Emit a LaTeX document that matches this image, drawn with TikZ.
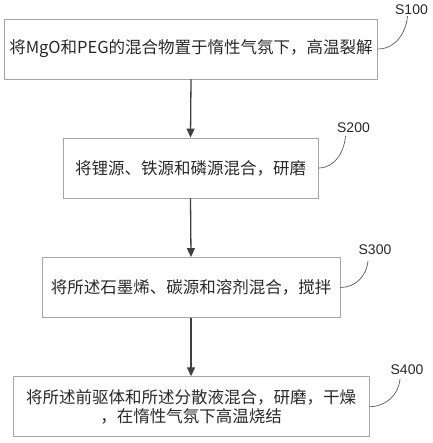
\documentclass[tikz,border=0pt]{standalone}
\usepackage{fontspec}
\newfontfamily\cjk{Noto Sans CJK SC}
\setsansfont{Liberation Sans}
\usetikzlibrary{arrows.meta, positioning}
\definecolor{boxgray}{RGB}{165, 165, 165}
\definecolor{arrowgray}{RGB}{64, 64, 64}
\definecolor{textgray}{RGB}{40, 40, 40}
\definecolor{leadgray}{RGB}{90, 90, 90}

\tikzset{
    stepbox/.style={draw=boxgray, line width=0.8pt, minimum height=60pt, inner sep=0pt,
        align=center, text=textgray, font=\cjk\fontsize{16.5}{19}\selectfont},
    flowarrow/.style={-{Triangle[length=9pt, width=8pt]}, line width=1.3pt, arrowgray},
    steplabel/.style={inner sep=0pt, text=textgray, font=\sffamily\fontsize{14}{16}\selectfont},
    leader/.style={leadgray, line width=0.7pt}
}

\begin{document}
\begin{tikzpicture}[x=1pt, y=-1pt]
    \useasboundingbox (0, 0) rectangle (432, 443);

    % steps
    \node[stepbox, minimum width=373pt] (s100) at (191, 49) {将MgO和PEG的混合物置于惰性气氛下，高温裂解};
    \node[stepbox, minimum width=255pt] (s200) at (190.5, 168) {将锂源、铁源和磷源混合，研磨};
    \node[stepbox, minimum width=298pt] (s300) at (191, 287.5) {将所述石墨烯、碳源和溶剂混合，搅拌};
    \node[stepbox, minimum width=356pt] (s400) at (191, 406.7) {将所述前驱体和所述分散液混合，研磨，干燥\\，在惰性气氛下高温烧结};

    \draw[flowarrow] (s100.south) -- (s200.north);
    \draw[flowarrow] (s200.south) -- (s300.north);
    \draw[flowarrow] (s300.south) -- (s400.north);

    % step numbers
    \node[steplabel, anchor=south] (l100) at (411.5, 15) {S100};
    \node[steplabel, anchor=south] (l200) at (353.5, 133) {S200};
    \node[steplabel, anchor=south] (l300) at (375, 255) {S300};
    \node[steplabel, anchor=south] (l400) at (407, 375) {S400};

    \draw[leader] (s100.east) to[out=0, in=-95] ([xshift=-4pt, yshift=-1pt]l100.south);
    \draw[leader] (s200.east) to[out=0, in=-95] ([xshift=-8pt, yshift=-3pt]l200.south);
    \draw[leader] (s300.east) to[out=0, in=-95] ([xshift=-7pt, yshift=-6pt]l300.south);
    \draw[leader] (s400.east) to[out=0, in=-95] ([xshift=-7pt, yshift=-4pt]l400.south);
\end{tikzpicture}
\end{document}
